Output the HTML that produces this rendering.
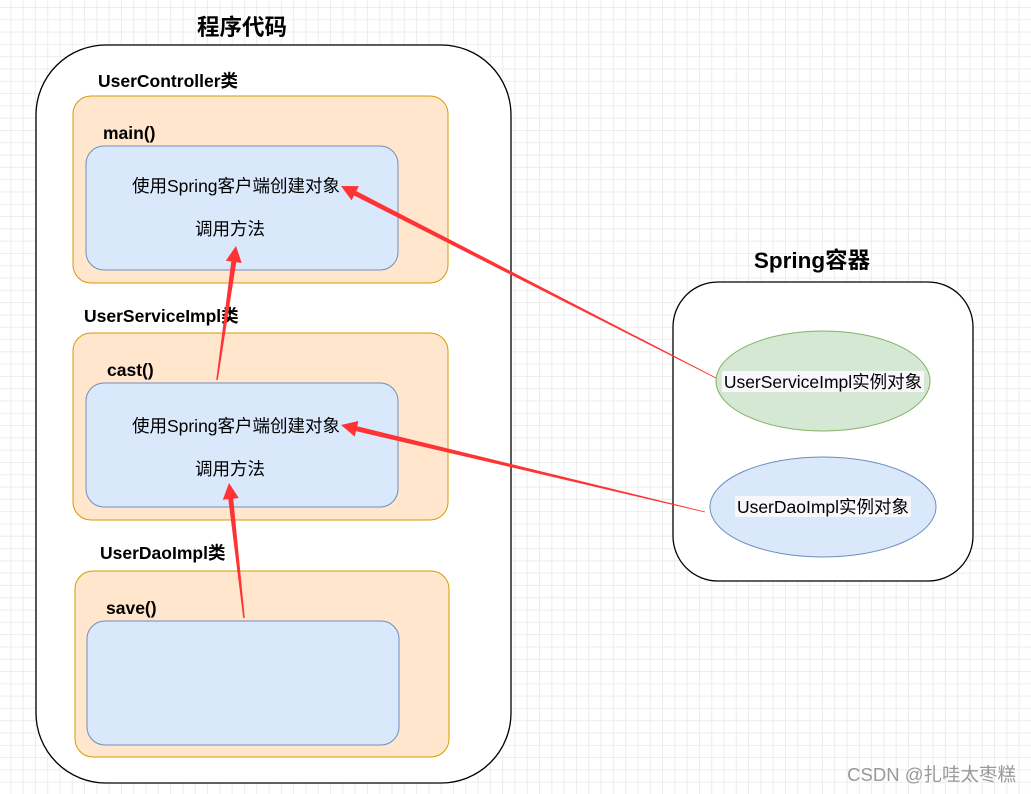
<!DOCTYPE html>
<html><head><meta charset="utf-8"><style>
body{margin:0;width:1031px;height:794px;overflow:hidden;background:#fff;
background-image:linear-gradient(#ececec 1px,transparent 1px),linear-gradient(90deg,#ececec 1px,transparent 1px);
background-size:12.3px 12.3px;background-position:-2px 7px;}
svg{position:absolute;left:0;top:0}
text{font-family:"Liberation Sans","Noto Sans CJK SC",sans-serif}
</style></head><body>
<svg width="1031" height="794" xmlns="http://www.w3.org/2000/svg">
<rect x="36" y="45" width="475" height="738" rx="70" fill="#fff" stroke="#000" stroke-width="1.3"/>
<rect x="673" y="282" width="300" height="299" rx="45" fill="#fff" stroke="#000" stroke-width="1.3"/>
<text x="242" y="35" font-size="22.5" font-weight="bold" text-anchor="middle">程序代码</text>
<text x="812" y="268" font-size="22.5" font-weight="bold" text-anchor="middle">Spring容器</text>
<g fill="#ffe6cc" stroke="#d79b00">
<rect x="73" y="96" width="375" height="187" rx="18"/>
<rect x="73" y="333" width="375" height="187" rx="18"/>
<rect x="75" y="571" width="374" height="186" rx="18"/>
</g>
<g fill="#dae8fc" stroke="#6c8ebf">
<rect x="86" y="146" width="312" height="124" rx="18"/>
<rect x="86" y="383" width="312" height="124" rx="18"/>
<rect x="87" y="621" width="312" height="124" rx="18"/>
</g>
<g font-size="17.5" font-weight="bold">
<text x="98" y="87">UserController类</text>
<text x="103" y="139">main()</text>
<text x="84" y="322">UserServiceImpl类</text>
<text x="107" y="376">cast()</text>
<text x="100" y="559">UserDaoImpl类</text>
<text x="106" y="614">save()</text>
</g>
<g font-size="17.5" text-anchor="middle">
<text x="236" y="192">使用Spring客户端创建对象</text>
<text x="230" y="235">调用方法</text>
<text x="236" y="432">使用Spring客户端创建对象</text>
<text x="230" y="475">调用方法</text>
</g>
<ellipse cx="823" cy="381" rx="107" ry="50" fill="#d5e8d4" stroke="#82b366"/>
<ellipse cx="823" cy="507" rx="113" ry="50" fill="#dae8fc" stroke="#6c8ebf"/>
<rect x="722" y="371" width="202" height="21" fill="#f8f8fc"/>
<rect x="735" y="496" width="176" height="21" fill="#f8f8fc"/>
<g font-size="17.5" text-anchor="middle">
<text x="823" y="388">UserServiceImpl实例对象</text>
<text x="823" y="513">UserDaoImpl实例对象</text>
</g>
<g id="arrows" fill="#ff3333"></g>
<text x="1016" y="781" font-size="18.5" fill="#999" text-anchor="end">CSDN @扎哇太枣糕</text>
</svg>
<script>
var g=document.getElementById('arrows');
function arr(x1,y1,x2,y2,w0,w1){
var dx=x2-x1,dy=y2-y1,L=Math.hypot(dx,dy),ux=dx/L,uy=dy/L,nx=-uy,ny=ux;
var hl=16,hw=8;var bx=x2-ux*hl,by=y2-uy*hl;
var p=[[x1+nx*w0/2,y1+ny*w0/2],[bx+nx*w1/2,by+ny*w1/2],[bx+nx*hw,by+ny*hw],[x2,y2],[bx-nx*hw,by-ny*hw],[bx-nx*w1/2,by-ny*w1/2],[x1-nx*w0/2,y1-ny*w0/2]];
var e=document.createElementNS('http://www.w3.org/2000/svg','polygon');
e.setAttribute('points',p.map(function(q){return q.join(',')}).join(' '));g.appendChild(e);}
arr(716,378,341,186,0.8,5);
arr(705,512,341,425,0.8,5);
arr(217,380,236,246,1.5,5);
arr(244,618,229,483,1.5,5);
</script>
</body></html>
